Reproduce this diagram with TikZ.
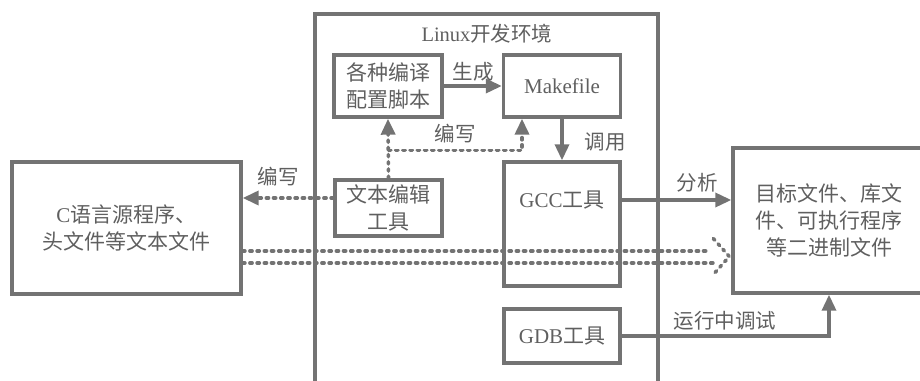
\documentclass[tikz,border=0pt]{standalone}
\usepackage{fontspec}
\setmainfont{Liberation Serif}
\newfontfamily\cjk{Noto Sans CJK SC}
\usetikzlibrary{arrows.meta,calc}
\definecolor{ln}{RGB}{115,115,115}
\definecolor{tx}{RGB}{95,95,95}
\begin{document}
\begin{tikzpicture}[x=1pt,y=-1pt,
  box/.style={draw=ln, line width=3.4pt, text=tx, align=center, inner sep=0pt,
    font=\fontsize{21}{27}\selectfont},
  cbox/.style={box, font=\cjk\fontsize{21}{27}\selectfont},
  tipx/.style={-{Triangle[length=16pt,width=14pt,line cap=butt]}},
  conn/.style={draw=ln, line width=3.4pt, tipx},
  dline/.style={draw=ln, line width=3.6pt, line cap=round, dash pattern=on 2.2pt off 5pt},
  dconn/.style={dline, tipx},
  txt/.style={text=tx, inner sep=0pt, font=\fontsize{21}{27}\selectfont},
  lbl/.style={text=tx, inner sep=0pt, font=\cjk\fontsize{20.5}{24}\selectfont}]
\useasboundingbox (0,0) rectangle (920,380);
% Linux environment frame (open at the bottom)
\draw[ln, line width=3.4pt] (315,400) -- (315,14) -- (658,14) -- (658,400);
\node[txt, font=\fontsize{20.5}{24}\selectfont] (title) at (487,34) {Linux{\cjk 开发环境}};
% boxes
\node[cbox, minimum width=108pt, minimum height=62pt] (cfg) at (388,86) {各种编译\\配置脚本};
\node[box, minimum width=117pt, minimum height=62pt] (mk) at (562,86) {Makefile};
\node[box, minimum width=116pt, minimum height=124pt] (gcc) at (562,224) {};
\node[txt] (gcct) at ($(gcc.center)+(0,-24)$) {GCC{\cjk 工具}};
\node[box, minimum width=116pt, minimum height=54pt] (gdb) at (562,336) {GDB{\cjk 工具}};
\node[cbox, minimum width=107pt, minimum height=56pt] (ed) at (388.5,208) {文本编辑\\工具};
\node[box, minimum width=229pt, minimum height=132pt] (src) at (126.5,228) {C{\cjk 语言源程序、}\hspace{0.8em}\\{\cjk 头文件等文本文件}};
\node[cbox, minimum width=192pt, minimum height=145pt] (tgt) at (829,220.5) {目标文件、库文\\件、可执行程序\\等二进制文件};
% solid connectors
\draw[conn] (cfg.east) -- (mk.west);
\draw[conn] (mk.south) -- (gcc.north);
\draw[conn] ($(gcc.east)+(0,-24)$) -- ($(gcc.east -| tgt.west)+(0,-24)$);
\draw[conn] (gdb.east) -| (tgt.south);
% dashed connectors
\draw[dconn] ($(ed.west)+(0,-10)$) -- ($(ed.west -| src.east)+(0,-10)$);
\draw[dconn] (ed.north) -- (cfg.south);
\draw[dconn] ($(ed.north)+(0,-28)$) -| ($(mk.south)+(-40,0)$);
% double dashed arrow
\draw[dline] ($(src.east)+(0,23)$) -- ($(src.east -| tgt.west)+(-24,23)$);
\draw[dline] ($(src.east)+(0,35)$) -- ($(src.east -| tgt.west)+(-16,35)$);
\draw[dline, line join=round] ($(tgt.west)+(-18,18)$) -- ($(tgt.west)+(-2,36)$) -- ($(tgt.west)+(-18,54)$);
% labels
\node[lbl] (l1) at (473,72) {生成};
\node[lbl] (l2) at (455,134) {编写};
\node[lbl] (l3) at (605,142) {调用};
\node[lbl] (l4) at (278,177) {编写};
\node[lbl] (l5) at (697,183) {分析};
\node[lbl] (l6) at (725,321) {运行中调试};
\end{tikzpicture}
\end{document}
